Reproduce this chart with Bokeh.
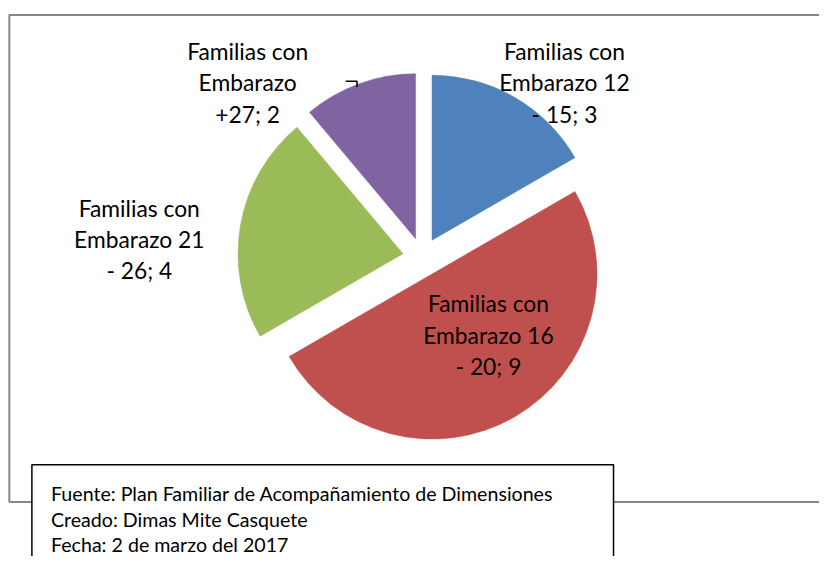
import numpy as np
from bokeh.plotting import figure
from bokeh.models import Range1d, ColumnDataSource
from bokeh.core.properties import value
from bokeh.embed import file_html
from bokeh.resources import INLINE

# ---- data ----
categories = ["Familias con Embarazo 12 - 15", "Familias con Embarazo 16 - 20",
              "Familias con Embarazo 21 - 26", "Familias con Embarazo +27"]
counts = [3, 9, 4, 2]
colors = ["#4F81BD", "#C0504D", "#9BBB59", "#8064A2"]
label_lines = [
    ["Familias con", "Embarazo 12", "- 15; 3"],
    ["Familias con", "Embarazo 16", "- 20; 9"],
    ["Familias con", "Embarazo 21", "- 26; 4"],
    ["Familias con", "Embarazo", "+27; 2"],
]
note_lines = ["Fuente: Plan Familiar de Acompañamiento de Dimensiones",
              "Creado: Dimas Mite Casquete",
              "Fecha: 2 de marzo del 2017"]

# ---- layout (reference 835x572 pixel space -> plot coords) ----
W, H = 819, 556
SX, SY = W / 835, H / 572
S = (SX + SY) / 2
def X(x): return x * SX
def Y(y): return H - y * SY

cx, cy, R, EXPLODE = X(430), Y(264), 169 * S, 20 * S
label_anchor = [(575, 52), (497.5, 311.7), (141.5, 213), (252, 52)]  # center x, first baseline
LINE_H = 32.3

p = figure(width=W, height=H, x_range=Range1d(0, W), y_range=Range1d(0, H),
           output_backend="svg", toolbar_location=None, min_border=0)
p.axis.visible = False
p.grid.visible = False
p.outline_line_color = None
p.background_fill_color = "white"
p.border_fill_color = "white"

# chart area border
p.quad(left=X(9), right=X(900), top=Y(15), bottom=Y(516),
       fill_color=None, line_color="#878787", line_width=2)

# pie wedges
vals = np.array(counts, dtype=float)
frac = vals / vals.sum()
cum = np.concatenate([[0], np.cumsum(frac)[:-1]])
start = np.pi / 2 - 2 * np.pi * cum
end = start - 2 * np.pi * frac
mid = (start + end) / 2
wx = cx + EXPLODE * np.cos(mid)
wy = cy + EXPLODE * np.sin(mid)
src = ColumnDataSource(dict(x=wx, y=wy, start=start, end=end, color=colors, cat=categories))
p.wedge(x="x", y="y", radius=R, start_angle="start", end_angle="end", direction="clock",
        fill_color="color", line_color="color", line_width=0.5, source=src)

# leader line for the small slice label
p.line([X(352), X(363.5), X(363.5)], [Y(83), Y(83), Y(89)], line_color="black", line_width=1.5)

# labels
tx, ty, tt = [], [], []
for (ax, ay), lines in zip(label_anchor, label_lines):
    for k, t in enumerate(lines):
        tx.append(X(ax)); ty.append(Y(ay + k * LINE_H)); tt.append(t)
p.text(x=tx, y=ty, text=tt, text_align="center", text_baseline="alphabetic",
       text_font=value("Lato"), text_font_size="22.8px", text_color="black")

# note box
p.quad(left=X(32), right=X(625), top=Y(477.5), bottom=Y(620),
       fill_color="white", line_color="black", line_width=1.5)
p.text(x=[X(51.5)] * 3, y=[Y(507.3 + k * 26.3) for k in range(3)], text=note_lines,
       text_align="left", text_baseline="alphabetic",
       text_font=value("Lato"), text_font_size="19.6px", text_color="black")

open("out.html", "w").write(file_html(p, INLINE))
